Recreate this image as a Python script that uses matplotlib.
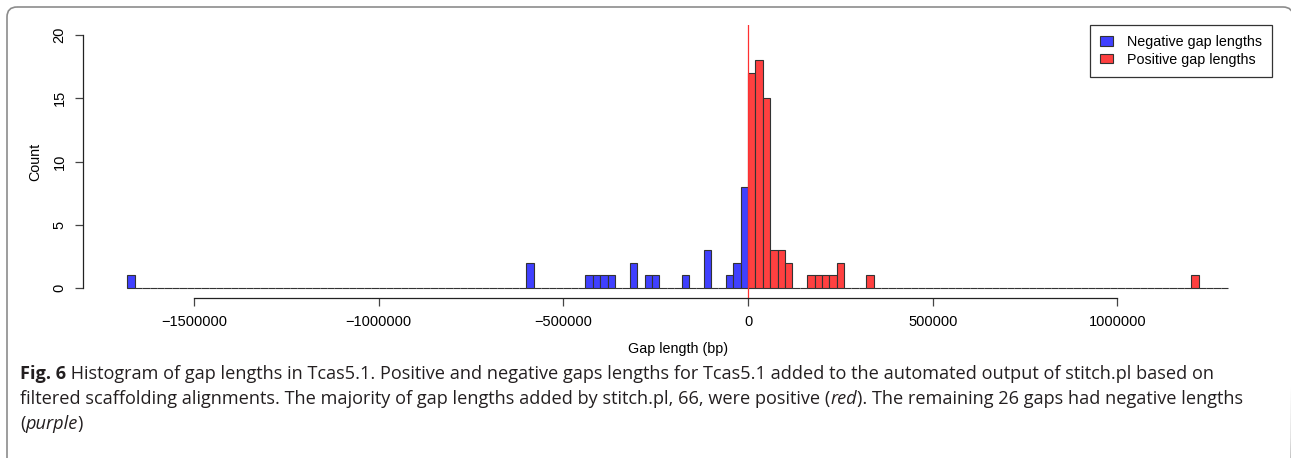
import matplotlib.pyplot as plt
import numpy as np
from matplotlib.patches import Patch, FancyBboxPatch

# histogram bins (20 kb wide), left edges of the non-empty bins and their counts
bin_width = 20000
neg_range = (-1680000, 0)
pos_range = (0, 1300000)
neg_left = [-1680000, -600000, -440000, -420000, -400000, -380000, -320000,
            -280000, -260000, -180000, -120000, -60000, -40000, -20000]
neg_count = [1, 2, 1, 1, 1, 1, 2, 1, 1, 1, 3, 1, 2, 8]
pos_left = [0, 20000, 40000, 60000, 80000, 100000, 160000, 180000, 200000,
            220000, 240000, 320000, 1200000]
pos_count = [17, 18, 15, 3, 3, 2, 1, 1, 1, 1, 2, 1, 1]

x_ticks = [-1500000, -1000000, -500000, 0, 500000, 1000000]
y_ticks = [0, 5, 10, 15, 20]
legend_labels = ['Negative gap lengths', 'Positive gap lengths']

blue = '#4040ff'
red = '#ff4040'
edge = '#333333'


def full_bins(rng, lefts, counts):
    edges = np.arange(rng[0], rng[1], bin_width)
    h = np.zeros(len(edges))
    for l, c in zip(lefts, counts):
        h[np.searchsorted(edges, l)] = c
    return edges, h


plt.rcParams['font.family'] = ['Liberation Sans', 'DejaVu Sans']

W, H = 1291, 458
fig = plt.figure(figsize=(W / 100, H / 100), dpi=100)

# background frame of the figure panel (pixel coords)
bg = fig.add_axes([0, 0, 1, 1])
bg.set_xlim(0, W)
bg.set_ylim(H, 0)
bg.axis('off')
bg.add_patch(FancyBboxPatch((7, 7), 1286, 700, boxstyle='round,pad=0,rounding_size=10',
                            fc='none', ec='#8c8c8c', lw=1.2))

# plot region in pixels: x 83.4..1272.3, y 25..298
ax = fig.add_axes([83.4 / W, 1 - 298 / H, (1272.3 - 83.4) / W, (298 - 25) / H])
ax.patch.set_alpha(0)

ne, nh = full_bins(neg_range, neg_left, neg_count)
pe, ph = full_bins(pos_range, pos_left, pos_count)
ax.bar(ne, nh, width=bin_width, align='edge', color=blue, edgecolor=edge, linewidth=0.8)
ax.bar(pe, ph, width=bin_width, align='edge', color=red, edgecolor=edge, linewidth=0.8)
ax.axvline(0, color='#ff3030', lw=0.9)

ax.set_xlim(-1799200, 1419200)
ax.set_ylim(-0.8, 20.8)

for s in ['top', 'right']:
    ax.spines[s].set_visible(False)
ax.spines['left'].set_bounds(0, 20)
ax.spines['bottom'].set_bounds(x_ticks[0], x_ticks[-1])
for s in ['left', 'bottom']:
    ax.spines[s].set_linewidth(0.9)
    ax.spines[s].set_color('#222222')

ax.set_xticks(x_ticks, [str(v).replace('-', '\u2212') for v in x_ticks])
ax.set_yticks(y_ticks, [str(v) for v in y_ticks])
ax.tick_params(axis='x', length=6, width=0.9, pad=6, labelsize=10.5, color='#444444')
ax.tick_params(axis='y', length=6, width=0.9, pad=6, labelsize=10.5, color='#444444',
               labelrotation=90)
for lab in ax.get_yticklabels():
    lab.set_va('center')

ax.set_xlabel('Gap length (bp)', fontsize=10.3)
ax.xaxis.set_label_coords(0.5, -(349 - 298) / 273)
ax.xaxis.label.set_va('center')
ax.set_ylabel('Count', fontsize=10.3)
ax.yaxis.set_label_coords(-(83.4 - 35) / 1188.9, 0.5)
ax.yaxis.label.set_va('center')

handles = [Patch(fc=blue, ec=edge, lw=0.8), Patch(fc=red, ec=edge, lw=0.8)]
leg = ax.legend(handles, legend_labels, loc='upper right', borderaxespad=0,
                fontsize=10.3, frameon=True, fancybox=False, handlelength=0.9,
                handleheight=0.65, handletextpad=1.0, labelspacing=0.25,
                borderpad=0.7)
leg.get_frame().set_edgecolor('black')
leg.get_frame().set_linewidth(0.9)

# caption
cap_font = ['Open Sans', 'DejaVu Sans']
cap_size = 13.1
cap_color = '#231f20'
lines = [
    [('Fig. 6', 'bold', 'normal'),
     (' Histogram of gap lengths in Tcas5.1. Positive and negative gaps lengths for Tcas5.1 '
      'added to the automated output of stitch.pl based on', 'normal', 'normal')],
    [('filtered scaffolding alignments. The majority of gap lengths added by stitch.pl, 66, '
      'were positive (', 'normal', 'normal'),
     ('red', 'normal', 'italic'),
     ('). The remaining 26 gaps had negative lengths', 'normal', 'normal')],
    [('(', 'normal', 'normal'), ('purple', 'normal', 'italic'), (')', 'normal', 'normal')],
]
line_y = [374, 399, 424]
for yc, parts in zip(line_y, lines):
    prev = None
    for txt, wt, st in parts:
        kw = dict(fontsize=cap_size, family=cap_font, weight=wt, style=st,
                  color=cap_color, va='center', ha='left')
        if prev is None:
            prev = bg.text(20, yc, txt, **kw)
        else:
            prev = bg.annotate(txt, xy=(1, 0.5), xycoords=prev, **kw)

fig.savefig('out.png', dpi=100)
